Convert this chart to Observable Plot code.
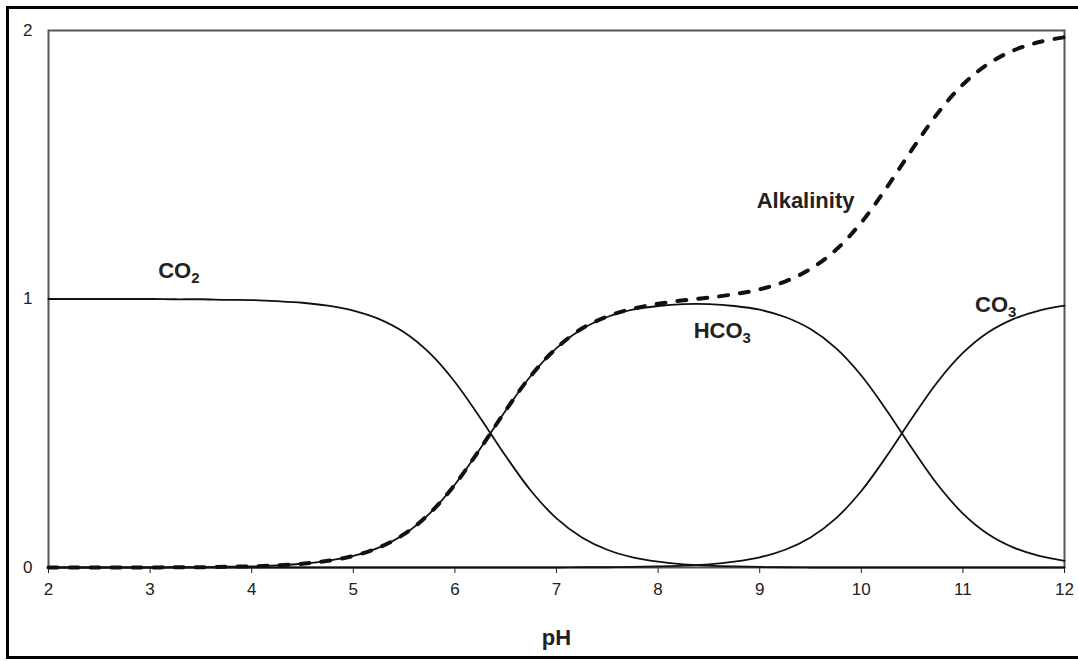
<!DOCTYPE html>
<html>
<head>
<meta charset="utf-8">
<script src="https://cdn.jsdelivr.net/npm/d3@7"></script>
<script src="https://cdn.jsdelivr.net/npm/@observablehq/plot@0.6"></script>
<style>
  html, body { margin: 0; padding: 0; background: #fff; }
  #wrap { position: relative; width: 1078px; height: 661px; overflow: hidden; }
  #border { position: absolute; left: 6px; top: 6px; width: 1100px; height: 653px; box-sizing: border-box;
            border-left: 3px solid #000; border-top: 3px solid #000; border-bottom: 3px solid #000; pointer-events: none; }
</style>
</head>
<body>
<div id="wrap"><div id="chart"></div><div id="border"></div></div>
<script>
// pH values
const pH = [2, 2.25, 2.5, 2.75, 3, 3.25, 3.5, 3.75, 4, 4.25, 4.5, 4.75, 5, 5.25, 5.5, 5.75, 6, 6.25, 6.5, 6.75,
            7, 7.25, 7.5, 7.75, 8, 8.25, 8.5, 8.75, 9, 9.25, 9.5, 9.75, 10, 10.25, 10.5, 10.75, 11, 11.25, 11.5, 11.75, 12];
// CO2 fraction
const co2 = [1, 1, 1, 1, 1, 0.999, 0.999, 0.997, 0.996, 0.992, 0.986, 0.975, 0.957, 0.926, 0.876, 0.799, 0.691, 0.557, 0.415, 0.285,
             0.183, 0.112, 0.066, 0.038, 0.022, 0.012, 0.007, 0.004, 0.002, 0.001, 0, 0, 0, 0, 0, 0, 0, 0, 0, 0, 0];
// HCO3 fraction
const hco3 = [0, 0, 0, 0, 0, 0.001, 0.001, 0.003, 0.004, 0.008, 0.014, 0.025, 0.043, 0.074, 0.124, 0.201, 0.309, 0.443, 0.585, 0.715,
              0.817, 0.888, 0.933, 0.960, 0.974, 0.981, 0.981, 0.974, 0.960, 0.933, 0.888, 0.817, 0.715, 0.585, 0.443, 0.309, 0.201, 0.124, 0.074, 0.043, 0.025];
// CO3 fraction
const co3 = [0, 0, 0, 0, 0, 0, 0, 0, 0, 0, 0, 0, 0, 0, 0, 0, 0, 0, 0, 0,
             0, 0.001, 0.001, 0.002, 0.004, 0.007, 0.012, 0.022, 0.038, 0.066, 0.112, 0.183, 0.285, 0.415, 0.557, 0.691, 0.799, 0.876, 0.926, 0.957, 0.975];
// Alkalinity
const alk = [0, 0, 0, 0, 0, 0.001, 0.001, 0.003, 0.004, 0.008, 0.014, 0.025, 0.043, 0.074, 0.124, 0.201, 0.309, 0.443, 0.585, 0.715,
             0.817, 0.890, 0.935, 0.964, 0.982, 0.995, 1.005, 1.018, 1.036, 1.065, 1.112, 1.183, 1.285, 1.415, 1.557, 1.691, 1.799, 1.876, 1.926, 1.957, 1.975];

// tick labels
const xTicks = [2, 3, 4, 5, 6, 7, 8, 9, 10, 11, 12];
const yTicks = [0, 1, 2];

// annotations
const labelMain = ["CO", "HCO", "CO", "Alkalinity"];
const labelSub = ["2", "3", "3", ""];
const labelX = [3.08, 8.35, 11.12, 8.97];
const labelY = [1.077, 0.853, 0.950, 1.338];

const rows = pH.map((p, i) => ({pH: p, co2: co2[i], hco3: hco3[i], co3: co3[i], alk: alk[i]}));
const labels = labelMain.map((t, i) => ({t: labelSub[i] ? t + "|" + labelSub[i] : t, x: labelX[i], y: labelY[i]}));

const chart = Plot.plot({
  width: 1078,
  height: 661,
  marginLeft: 48,
  marginRight: 14,
  marginTop: 30,
  marginBottom: 94,
  style: {fontFamily: "'Liberation Sans', Arial, sans-serif", fontSize: "17px", color: "#222", background: "#fff"},
  x: {domain: [2, 12], ticks: xTicks, tickSize: 6, tickPadding: 9, tickFormat: d3.format("d"), label: null},
  y: {domain: [0, 2], ticks: yTicks, tickSize: 0, tickPadding: 16, tickFormat: d3.format("d"), label: null},
  marks: [
    Plot.frame({stroke: "#555", strokeWidth: 2}),
    Plot.line(rows, {x: "pH", y: "co2", stroke: "#111", strokeWidth: 1.8, curve: "catmull-rom"}),
    Plot.line(rows, {x: "pH", y: "hco3", stroke: "#111", strokeWidth: 1.8, curve: "catmull-rom"}),
    Plot.line(rows, {x: "pH", y: "co3", stroke: "#111", strokeWidth: 1.8, curve: "catmull-rom"}),
    Plot.line(rows, {x: "pH", y: "alk", stroke: "#111", strokeWidth: 4, strokeDasharray: "9,12", curve: "catmull-rom"}),
    Plot.text(labels, {x: "x", y: "y", text: "t", textAnchor: "start", lineAnchor: "bottom",
                       fontSize: 22, fontWeight: "bold", fill: "#222"}),
    Plot.text(["pH"], {frameAnchor: "bottom", dy: 77, lineAnchor: "bottom", text: d => d, fontSize: 22, fontWeight: "bold", fill: "#222"})
  ]
});

// render subscripts
chart.querySelectorAll("text").forEach(el => {
  const s = el.textContent;
  if (s.includes("|") && el.children.length === 0) {
    const [main, sub] = s.split("|");
    el.textContent = "";
    el.appendChild(document.createTextNode(main));
    const ts = document.createElementNS("http://www.w3.org/2000/svg", "tspan");
    ts.setAttribute("dy", "5");
    ts.setAttribute("font-size", "15");
    ts.textContent = sub;
    el.appendChild(ts);
  }
});

document.getElementById("chart").appendChild(chart);
</script>
</body>
</html>
